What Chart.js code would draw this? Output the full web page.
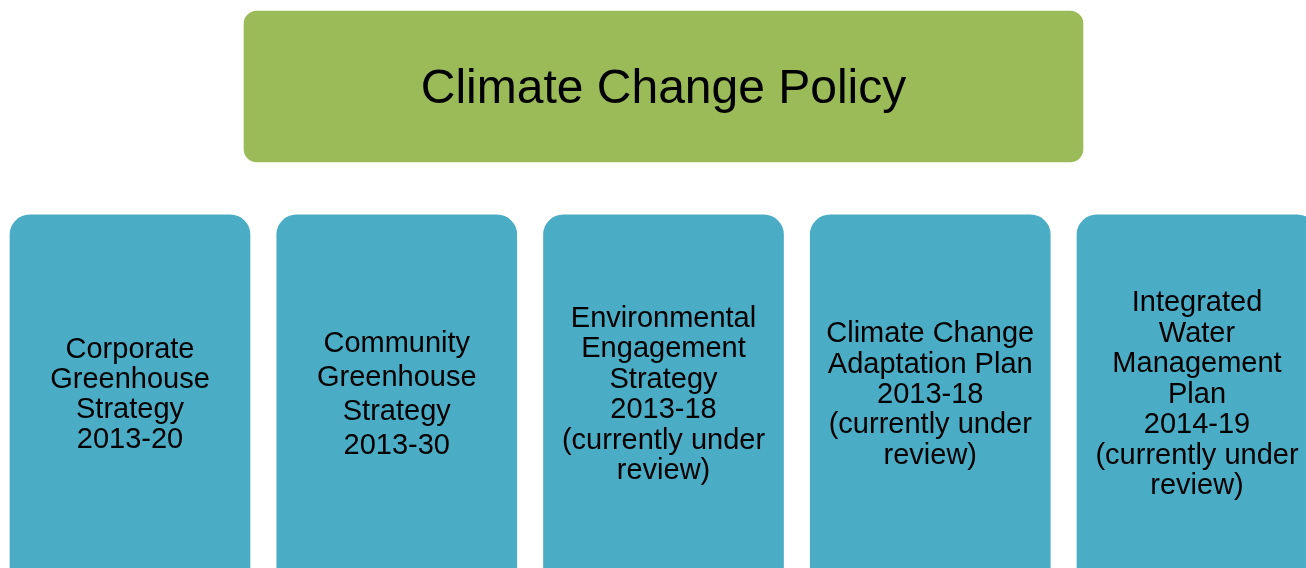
<!DOCTYPE html>
<html>
<head>
<meta charset="utf-8">
<script src="https://cdn.jsdelivr.net/npm/chart.js@4/dist/chart.umd.min.js"></script>
<style>
  html, body { margin: 0; padding: 0; background: #ffffff; }
  #wrap { position: relative; width: 1306px; height: 568px; }
</style>
</head>
<body>
<div id="wrap"><canvas id="orgChart"></canvas></div>
<script>
// ==========================================
// DATOS DEL DIAGRAMA
// ==========================================
const policyTitle = 'Climate Change Policy';

const strategyLines = [
    ['Corporate', 'Greenhouse', 'Strategy', '2013-20'],
    ['Community', 'Greenhouse', 'Strategy', '2013-30'],
    ['Environmental', 'Engagement', 'Strategy', '2013-18', '(currently under', 'review)'],
    ['Climate Change', 'Adaptation Plan', '2013-18', '(currently under', 'review)'],
    ['Integrated', 'Water', 'Management', 'Plan', '2014-19', '(currently under', 'review)']
];

// niveles del organigrama (unidades de fila)
const policyRow = [0, 1];
const strategyRow = [1.35, 4];

// estilos
const policyColor = '#9BBB59';
const strategyColor = '#4BACC6';
const lineHeights = [30, 34, 30.4, 30.3, 30.5];
const textShift = 3.5; // ajuste vertical de la línea base
const fontFamily = '"Liberation Sans", Arial, sans-serif';

// ==========================================
// PLUGIN DE TEXTO DENTRO DE LAS CAJAS
// ==========================================
const boxText = {
    id: 'boxText',
    afterDatasetsDraw(chart) {
        const ctx = chart.ctx;
        const area = chart.chartArea;
        ctx.save();
        ctx.fillStyle = '#000000';
        ctx.textAlign = 'center';
        ctx.textBaseline = 'middle';

        // caja superior
        const top = chart.getDatasetMeta(0).data[0];
        if (top) {
            const p = top.getProps(['x', 'y', 'base'], true);
            ctx.font = '48px ' + fontFamily;
            ctx.fillText(policyTitle, p.x, (p.y + p.base) / 2 + textShift);
        }

        // cajas de estrategias
        ctx.font = '29px ' + fontFamily;
        chart.getDatasetMeta(1).data.forEach((bar, i) => {
            const p = bar.getProps(['x', 'y', 'base'], true);
            const y0 = Math.min(p.y, p.base);
            const y1 = Math.min(Math.max(p.y, p.base), area.bottom);
            const lines = strategyLines[i];
            const lh = lineHeights[i];
            const start = (y0 + y1) / 2 - (lines.length - 1) * lh / 2 + textShift;
            lines.forEach((t, j) => ctx.fillText(t, p.x, start + j * lh));
        });
        ctx.restore();
    }
};

// ==========================================
// GRÁFICO
// ==========================================
const midIndex = (strategyLines.length - 1) / 2;

new Chart(document.getElementById('orgChart'), {
    type: 'bar',
    data: {
        datasets: [
            {
                label: policyTitle,
                data: [{ x: midIndex, y: policyRow }],
                backgroundColor: policyColor,
                borderRadius: 13,
                barThickness: 839
            },
            {
                label: 'Strategies',
                data: strategyLines.map((s, i) => ({ x: i, y: strategyRow })),
                backgroundColor: strategyColor,
                borderRadius: 20,
                barThickness: 240
            }
        ]
    },
    options: {
        responsive: true,
        maintainAspectRatio: false,
        animation: false,
        events: [],
        grouped: false,
        borderSkipped: false,
        layout: { padding: 0 },
        plugins: {
            legend: { display: false },
            tooltip: { enabled: false }
        },
        scales: {
            x: {
                type: 'linear',
                display: false,
                offset: false,
                min: -0.4874,
                max: 4.4086,
                ticks: { includeBounds: false, stepSize: 1 }
            },
            y: {
                type: 'linear',
                display: false,
                reverse: true,
                min: -0.0728,
                max: 3.6887
            }
        }
    },
    plugins: [boxText]
});
</script>
</body>
</html>
